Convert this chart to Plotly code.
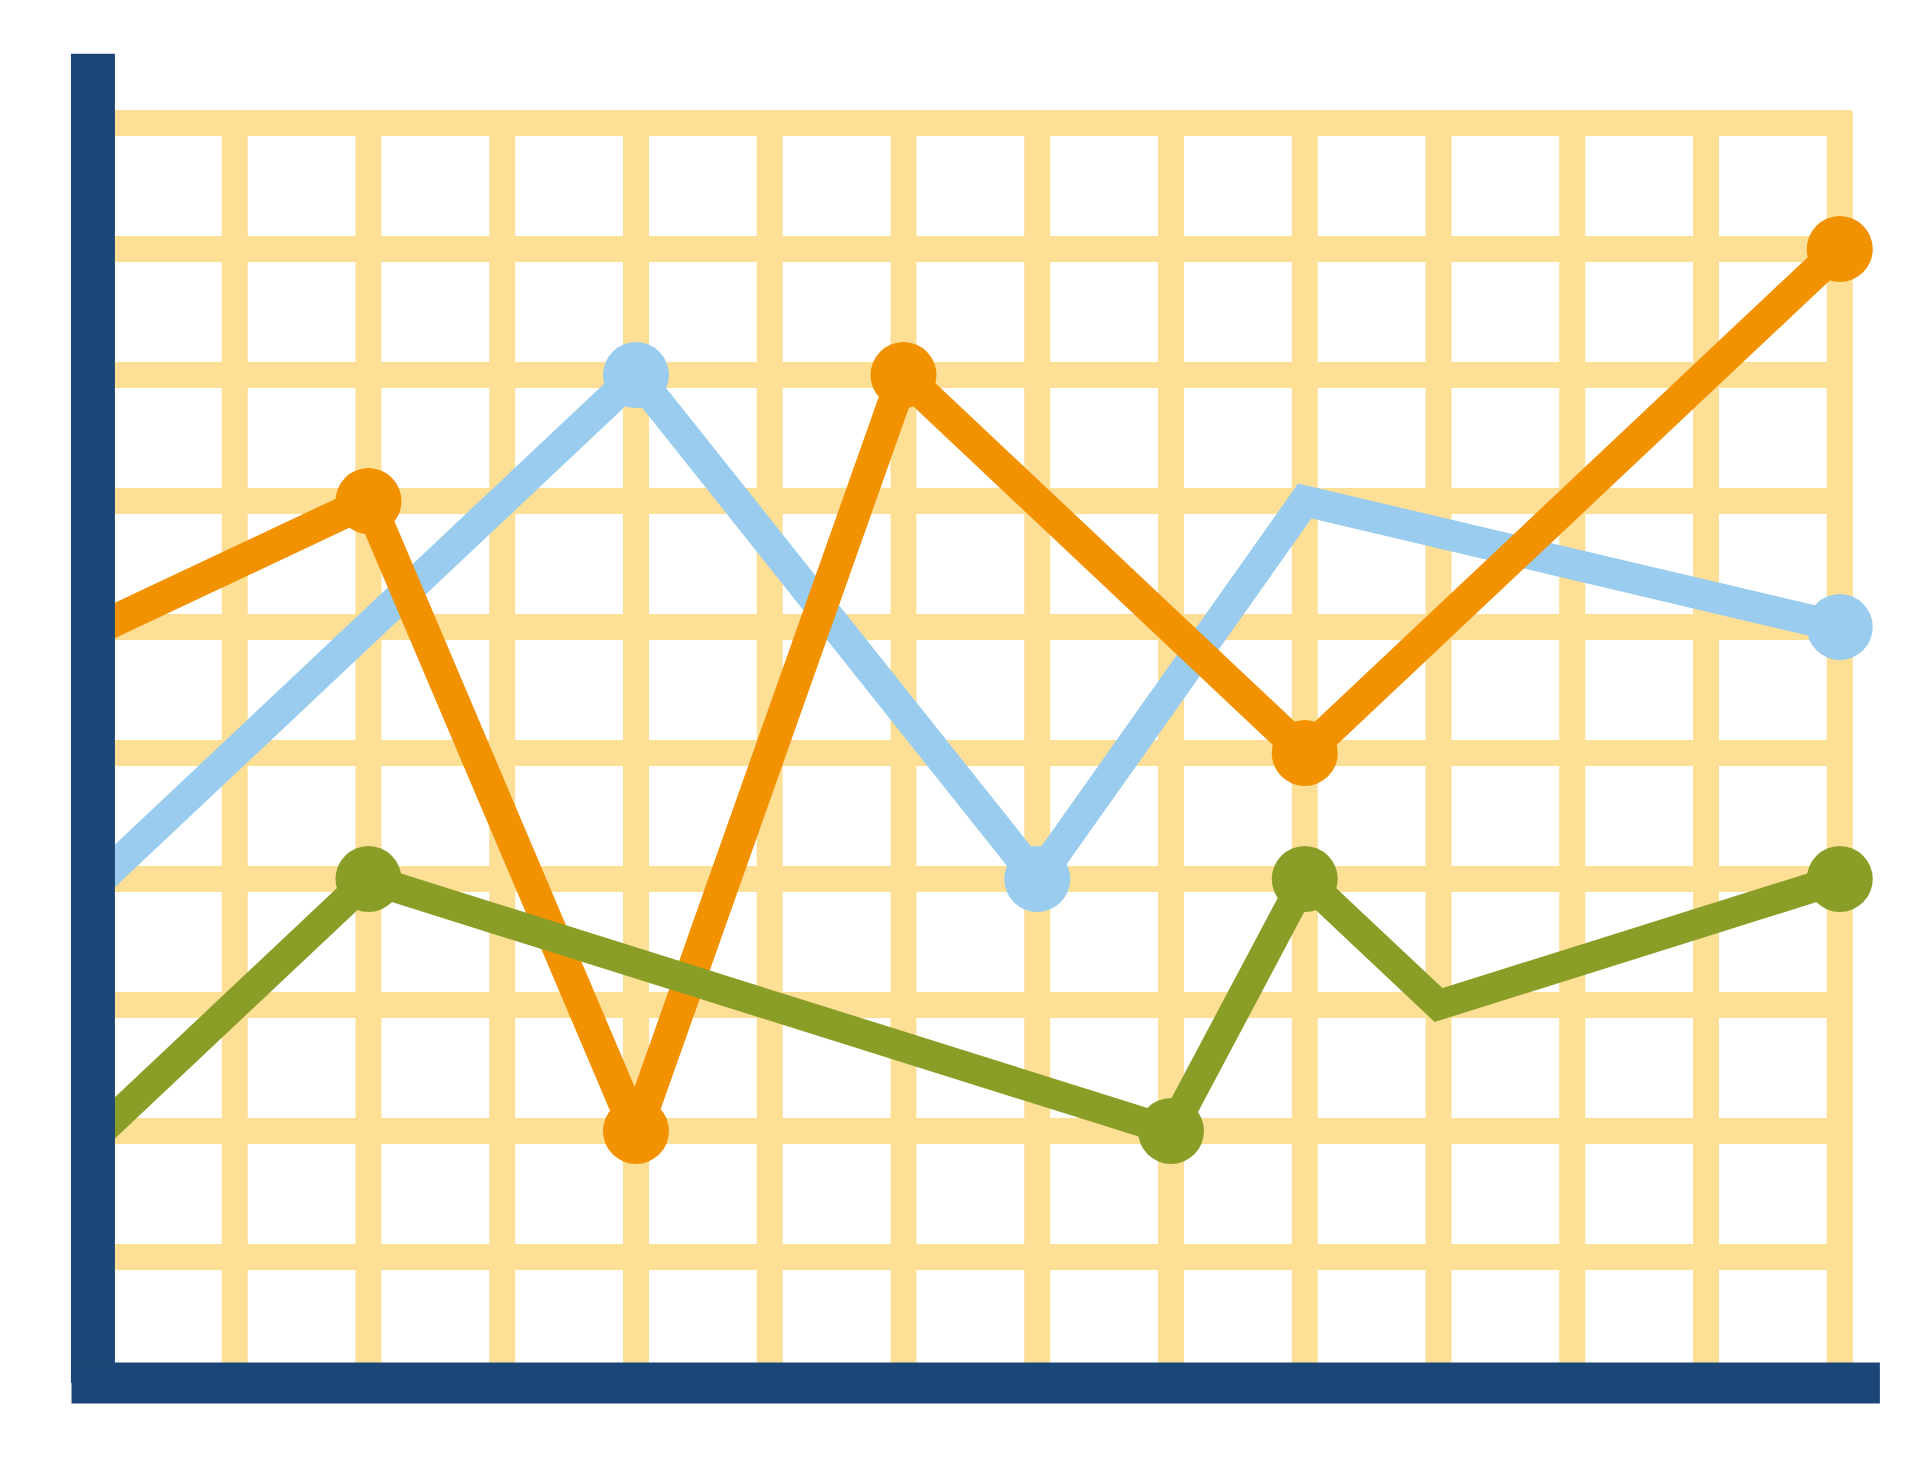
import plotly.graph_objects as go

# series values (x = column on the grid, y = row)
orange_x = [0, 2, 4, 6, 9, 13]
orange_y = [6, 7, 2, 8, 5, 9]
orange_mx = [2, 4, 6, 9, 13]
orange_my = [7, 2, 8, 5, 9]

blue_x = [0, 4, 7, 9, 13]
blue_y = [4, 8, 4, 7, 6]
blue_mx = [4, 7, 13]
blue_my = [8, 4, 6]

green_x = [0, 2, 8, 9, 10, 13]
green_y = [2, 4, 2, 4, 3, 4]
green_mx = [2, 8, 9, 13]
green_my = [4, 2, 4, 4]

grid_x = list(range(1, 14))
grid_y = list(range(1, 11))

NAVY = '#1b4677'
GRID = '#fddf96'

fig = go.Figure()

# grid drawn as shapes under the data
shapes = []
for gx in grid_x:
    shapes.append(dict(type='line', x0=gx, x1=gx, y0=0, y1=10.09,
                       line=dict(color=GRID, width=26), layer='below'))
for gy in grid_y:
    shapes.append(dict(type='line', x0=0, x1=13.09, y0=gy, y1=gy,
                       line=dict(color=GRID, width=26), layer='below'))
# hand drawn axes on top
shapes.append(dict(type='line', x0=-0.06, x1=-0.06, y0=0.0, y1=10.55,
                   line=dict(color=NAVY, width=44), layer='above'))
shapes.append(dict(type='line', x0=-0.22, x1=13.3, y0=0.0, y1=0.0,
                   line=dict(color=NAVY, width=41), layer='above'))


def add_series(x, y, mx, my, color, lw):
    fig.add_trace(go.Scatter(x=x, y=y, mode='lines',
                             line=dict(color=color, width=lw),
                             hoverinfo='skip'))
    fig.add_trace(go.Scatter(x=mx, y=my, mode='markers',
                             marker=dict(color=color, size=66, line=dict(width=0)),
                             hoverinfo='skip'))


add_series(blue_x, blue_y, blue_mx, blue_my, '#99ccee', 31)
add_series(orange_x, orange_y, orange_mx, orange_my, '#f39200', 32)
add_series(green_x, green_y, green_mx, green_my, '#8a9e27', 30)

fig.update_layout(
    width=1927, height=1467,
    margin=dict(l=0, r=0, t=0, b=0),
    paper_bgcolor='white', plot_bgcolor='white',
    showlegend=False,
    shapes=shapes,
    xaxis=dict(range=[-0.695, 13.712], visible=False, fixedrange=True),
    yaxis=dict(range=[-0.73, 10.913], visible=False, fixedrange=True),
)

fig.write_html("out.html")
